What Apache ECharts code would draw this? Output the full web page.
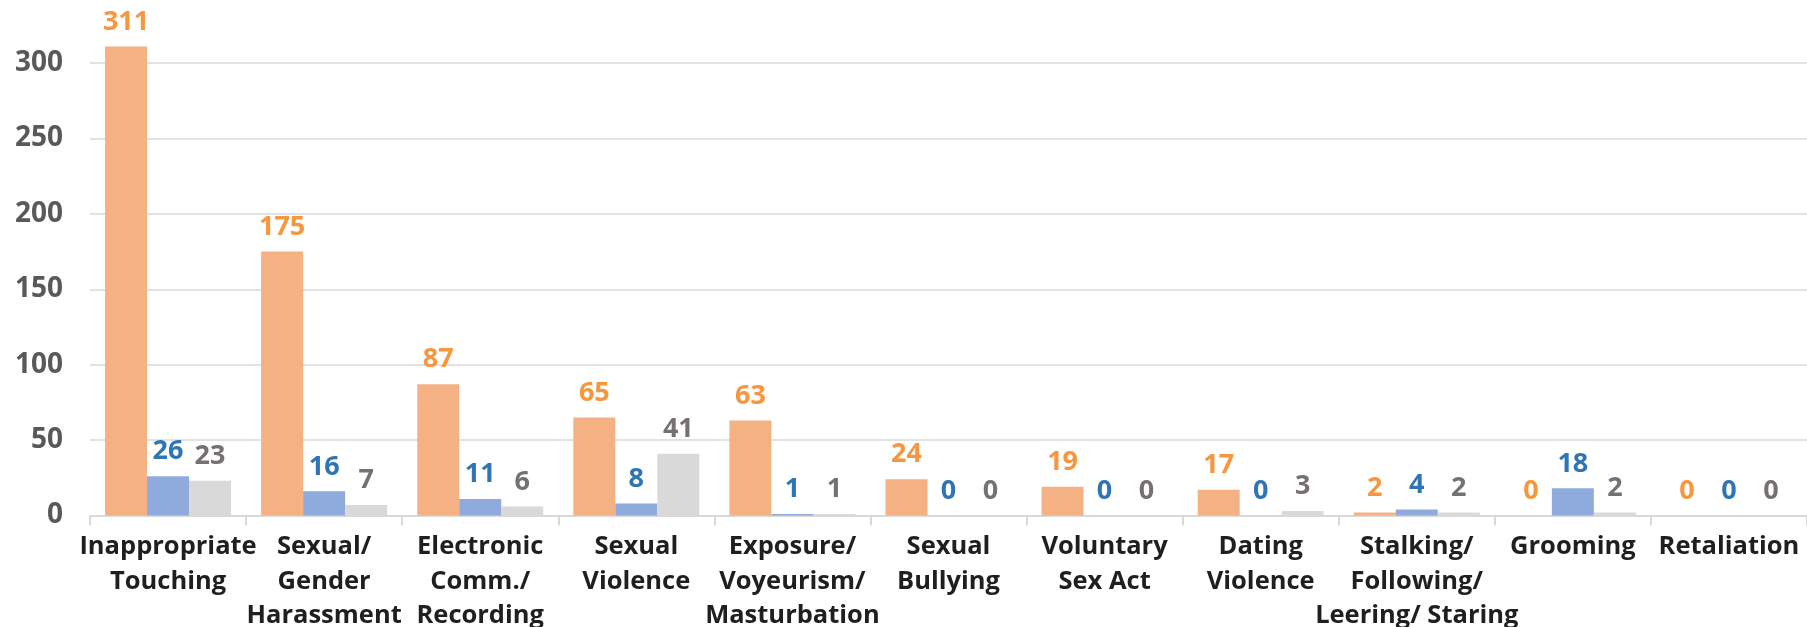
<!DOCTYPE html>
<html>
<head>
<meta charset="utf-8">
<script src="https://cdn.jsdelivr.net/npm/echarts@6/dist/echarts.min.js"></script>
<style>
html, body {
  width: 100%;
  height: 100%;
  padding: 0px;
  margin: 0px;
  background: #fff;
}
#chart { width: 1807px; height: 627px; }
</style>
</head>
<body>
<div id="chart"></div>
<script>
var categories = ['Inappropriate\nTouching', 'Sexual/\nGender\nHarassment', 'Electronic\nComm./\nRecording',
  'Sexual\nViolence', 'Exposure/\nVoyeurism/\nMasturbation', 'Sexual\nBullying', 'Voluntary\nSex Act',
  'Dating\nViolence', 'Stalking/\nFollowing/\nLeering/ Staring', 'Grooming', 'Retaliation'];
var seriesData1 = [311, 175, 87, 65, 63, 24, 19, 17, 2, 0, 0];
var seriesData2 = [26, 16, 11, 8, 1, 0, 0, 0, 4, 18, 0];
var seriesData3 = [23, 7, 6, 41, 1, 0, 0, 3, 2, 2, 0];
var yTicks = [0, 50, 100, 150, 200, 250, 300];

var font = '"Open Sans", sans-serif';

function barSeries(name, data, fill, textColor) {
  return {
    name: name,
    type: 'bar',
    data: data,
    clip: false,
    barWidth: 42,
    barGap: '0%',
    itemStyle: { color: fill },
    label: {
      show: true,
      position: 'top',
      distance: 11,
      color: textColor,
      fontFamily: font,
      fontWeight: 'bold',
      fontSize: 27
    }
  };
}

var chart = echarts.init(document.getElementById('chart'));
var option = {
  animation: false,
  grid: { left: 90, right: 0, top: 63, bottom: 111.5, containLabel: false, outerBoundsMode: 'none' },
  xAxis: {
    type: 'category',
    data: categories,
    axisLine: { lineStyle: { color: '#d9d9d9', width: 2 } },
    axisTick: { show: true, length: 10, lineStyle: { color: '#d9d9d9', width: 2 } },
    axisLabel: {
      interval: 0,
      hideOverlap: false,
      margin: 14,
      color: '#1f1f1f',
      fontFamily: font,
      fontWeight: 'bold',
      fontSize: 25.5,
      lineHeight: 34.5
    }
  },
  yAxis: {
    type: 'value',
    min: yTicks[0],
    max: yTicks[yTicks.length - 1],
    interval: 50,
    axisLine: { show: false },
    axisTick: { show: false },
    splitLine: { lineStyle: { color: '#d9d9d9', width: 1.5 } },
    axisLabel: {
      margin: 27,
      color: '#595959',
      fontFamily: font,
      fontWeight: 'bold',
      fontSize: 28
    }
  },
  series: [
    barSeries('Series 1', seriesData1, '#F4B183', '#F7963C'),
    barSeries('Series 2', seriesData2, '#8FAADC', '#2E75B6'),
    barSeries('Series 3', seriesData3, '#D9D9D9', '#767171')
  ]
};
chart.setOption(option);
</script>
</body>
</html>
